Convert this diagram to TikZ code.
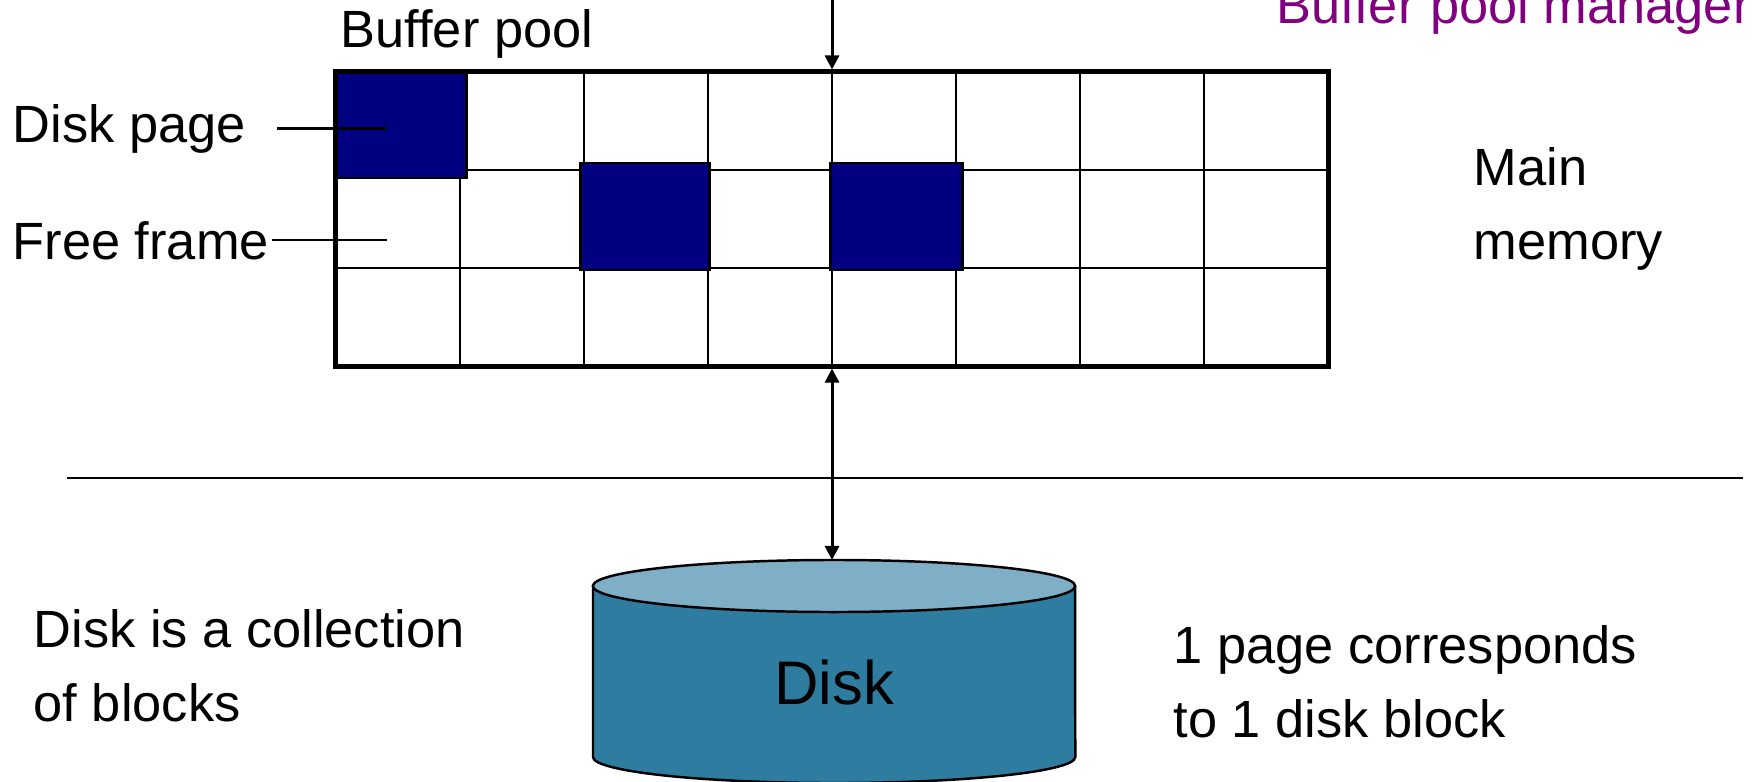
\documentclass[tikz,border=0pt]{standalone}
\usepackage{fontspec}
\setmainfont{Liberation Sans}
\usepackage{xcolor}
\usepackage{tikz}
\usetikzlibrary{arrows.meta}
\usetikzlibrary{calc}
\definecolor{pagefill}{RGB}{0,0,128}
\definecolor{cylside}{RGB}{46,124,160}
\definecolor{cyltop}{RGB}{127,175,198}
\definecolor{mgrpurple}{RGB}{128,0,128}
\tikzstyle{lbl}=[inner sep=0pt, anchor=base west, align=left, font=\fontsize{14.9}{21}\selectfont]
\tikzstyle{cellline}=[draw, line width=0.6pt]
\tikzstyle{pagebox}=[draw, line width=0.85pt, fill=pagefill]
\tikzstyle{pointer}=[draw, line width=0.6pt]
\tikzstyle{link}=[draw, line width=0.85pt, >={Triangle[length=4pt,width=4pt]}]
\tikzset{poolbox/.style={rectangle,draw,line width=1.4pt,inner sep=0pt,minimum width=9.92cm,minimum height=2.94cm}}

\begin{document}
\begin{tikzpicture}[x=0.01cm,y=0.01cm]
 \useasboundingbox (0,0) rectangle (1752,781);
 \clip (0,0) rectangle (1752,781);

 %Frames
  \def\cw{124};
  \def\rh{98};

  \foreach \i in {1,...,7}
         \path[cellline] (336+\i*\cw,415) -- (336+\i*\cw,709);
  \foreach \j in {1,2}
         \path[cellline] (336,415+\j*\rh) -- (1328,415+\j*\rh);

 %Pages in the pool
  \foreach \x/\y/\w/\h in {336/603/130/106, 580/511/129/107, 830/511/132/107}
         \path[pagebox] (\x,\y) rectangle ++(\w,\h);

  \node[poolbox] (pool) at (832,562) {};

 %Labels
  \node[lbl] (bp) at (340,733) {Buffer pool};
  \node[lbl, text=mgrpurple] (mgr) at (1276,758) {Buffer pool manager};
  \node[lbl] (dpage) at (12,639) {Disk page};
  \node[lbl] (ffree) at (12,522) {Free frame};
  \node[lbl] (mem) at (1473,522) {Main\\memory};
  \node[lbl] (coll) at (33,60) {Disk is a collection\\of blocks};
  \node[lbl] (corr) at (1173,44) {1 page corresponds\\to 1 disk block};

  \coordinate (pgR) at (387,655);
  \coordinate (ffR) at (387,544);
  \path[pointer, shorten <=0.31cm] (dpage.east) -- (dpage.east -| pgR);
  \path[pointer, shorten <=0.02cm] (ffree.east) -- (ffree.east -| ffR);

 %Disk
  \filldraw[fill=cylside, line width=0.7pt] (593,195) -- (593,24)
        arc[start angle=180, end angle=360, x radius=2.41cm, y radius=0.26cm] -- (1075,195);
  \filldraw[fill=cyltop, line width=0.7pt] (834,195) ellipse [x radius=2.41cm, y radius=0.26cm];
  \node[inner sep=0pt, anchor=base, font=\fontsize{17.5}{21}\selectfont] (disk) at (834,77) {Disk};

  \coordinate (disklid) at (832,221);
  \coordinate (mgrpt) at (832,781);
  \path[link, ->] (mgrpt) -- (pool.north);
  \path[link, <->] (pool.south) -- (disklid);

 %Memory / disk border
  \path[pointer] (67,303) -- (1743,303);

\end{tikzpicture}
\end{document}
